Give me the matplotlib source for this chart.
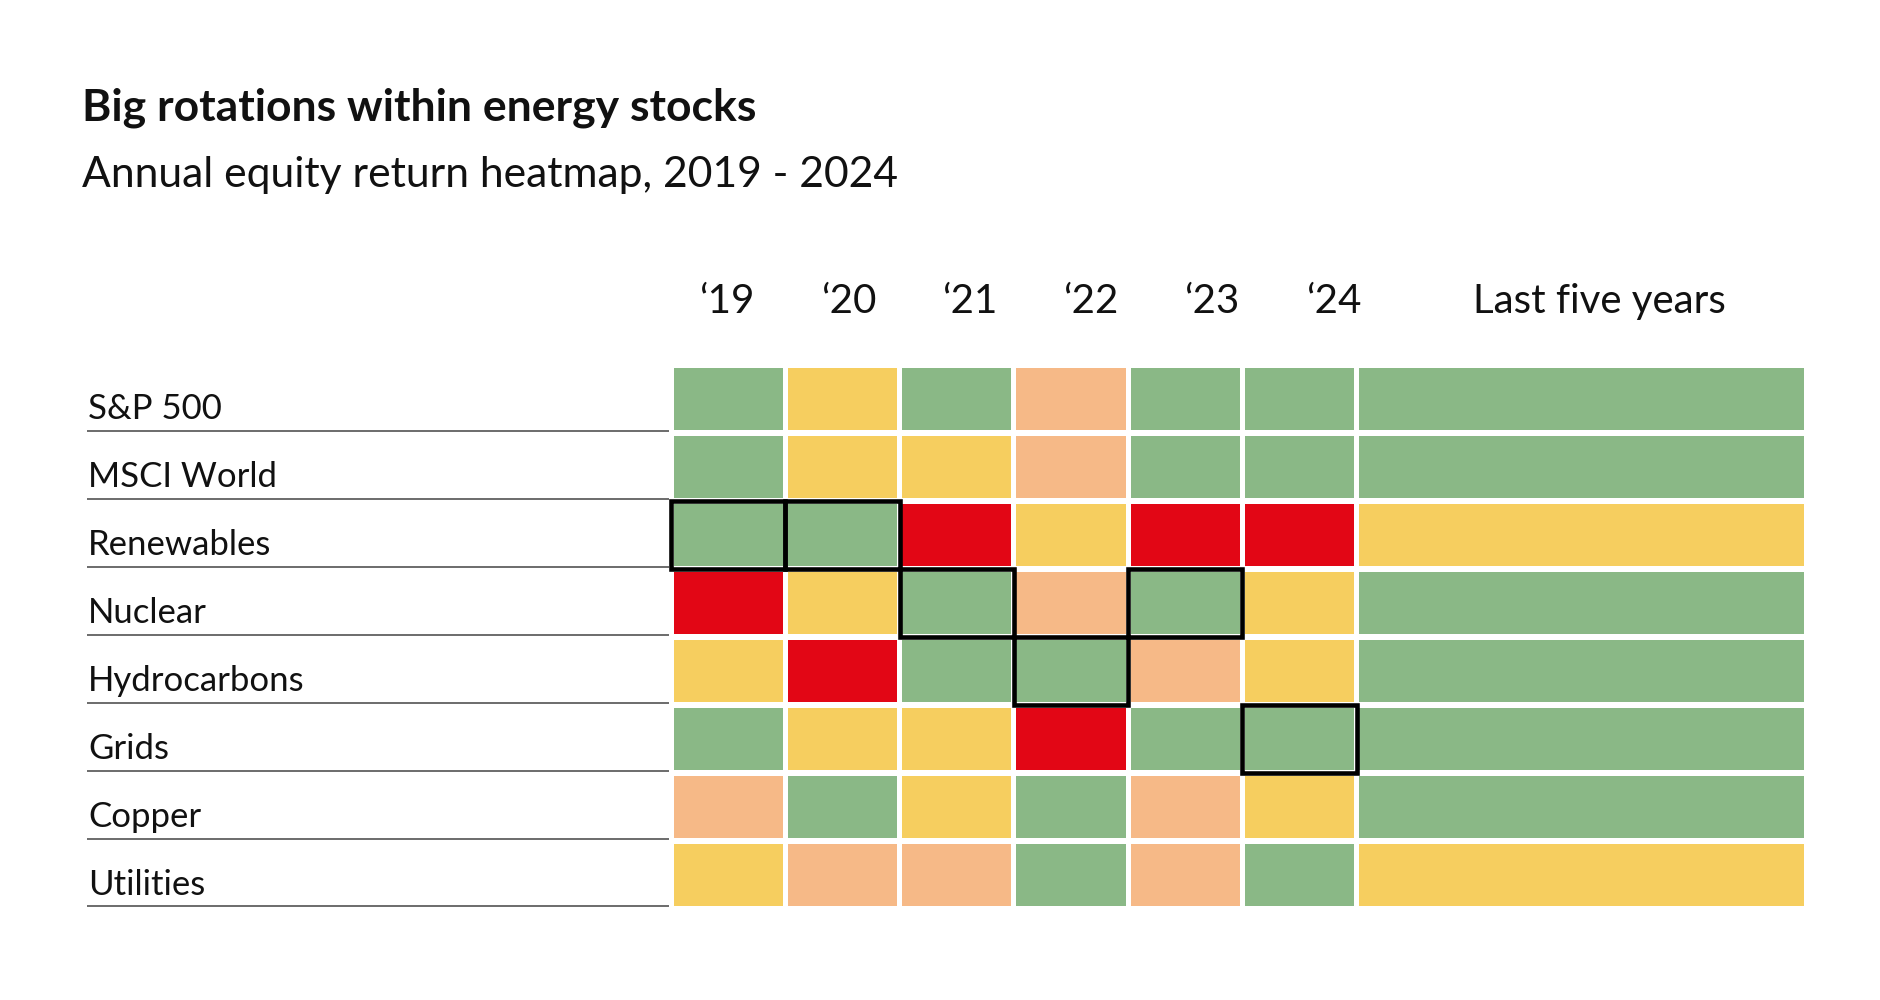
import matplotlib
matplotlib.use("Agg")
import matplotlib.pyplot as plt
from matplotlib.patches import Rectangle
import numpy as np

# Данные
rows = ["S&P 500", "MSCI World", "Renewables", "Nuclear",
        "Hydrocarbons", "Grids", "Copper", "Utilities"]
columns = ["\u201819", "\u201820", "\u201821", "\u201822", "\u201823", "\u201824",
           "Last five years"]

# G = strong, Y = moderate, O = weak, R = negative
sp500 = ["G", "Y", "G", "O", "G", "G", "G"]
msci_world = ["G", "Y", "Y", "O", "G", "G", "G"]
renewables = ["G", "G", "R", "Y", "R", "R", "Y"]
nuclear = ["R", "Y", "G", "O", "G", "Y", "G"]
hydrocarbons = ["Y", "R", "G", "G", "O", "Y", "G"]
grids = ["G", "Y", "Y", "R", "G", "G", "G"]
copper = ["O", "G", "Y", "G", "O", "Y", "G"]
utilities = ["Y", "O", "O", "G", "O", "G", "Y"]
ratings = [sp500, msci_world, renewables, nuclear, hydrocarbons, grids, copper, utilities]

# лучший сектор в каждом году
highlight_rows = [2, 2, 3, 3, 4, 5]
highlight_cols = [0, 1, 2, 4, 3, 5]

palette = {"G": "#8AB886", "Y": "#F6CE5F", "O": "#F6B987", "R": "#E20615"}

# Геометрия
col_widths = np.array([1, 1, 1, 1, 1, 1, 3.94])
col_left = np.concatenate([[0], np.cumsum(col_widths)[:-1]])
gap_x = 0.044
gap_y = 0.088
# заголовки в оригинале разнесены чуть шире, чем столбцы
header_x = [0.49 + 1.061 * i for i in range(6)] + [8.12]

fig = plt.figure(figsize=(18.8, 10), dpi=100)
ax = fig.add_axes([671 / 1880, 0.0915, 1136 / 1880, 0.5435])
ax.set_xlim(0, col_widths.sum())
ax.set_ylim(len(rows), 0)
ax.axis("off")

for r, row_vals in enumerate(ratings):
    for c, val in enumerate(row_vals):
        ax.add_patch(Rectangle((col_left[c] + gap_x / 2, r + gap_y / 2),
                               col_widths[c] - gap_x, 1 - gap_y,
                               facecolor=palette[val], edgecolor="none"))

for r, c in zip(highlight_rows, highlight_cols):
    ax.add_patch(Rectangle((col_left[c], r), col_widths[c], 1,
                           facecolor="none", edgecolor="black",
                           linewidth=3.3, zorder=5, clip_on=False))

# Подписи строк
for r, name in enumerate(rows):
    ax.text(-5.1, r + 0.8, name, fontsize=25, family="Lato",
            va="baseline", ha="left", color="#111111", clip_on=False)
    ax.plot([-5.11, -0.02], [r + 0.97, r + 0.97], color="#444444",
            linewidth=1.1, clip_on=False, solid_capstyle="butt")

# Заголовки столбцов
for x, name in zip(header_x, columns):
    ax.text(x, -0.76, name, fontsize=29, family="Lato",
            va="baseline", ha="center", color="#111111")

fig.text(0.0436, 0.8795, "Big rotations within energy stocks", fontsize=32,
         family="Lato", fontweight="bold", color="#111111")
fig.text(0.0436, 0.813, "Annual equity return heatmap, 2019 - 2024", fontsize=30.7,
         family="Lato", fontweight="normal", color="#111111")

fig.savefig("out.png", dpi=100, facecolor="white")
